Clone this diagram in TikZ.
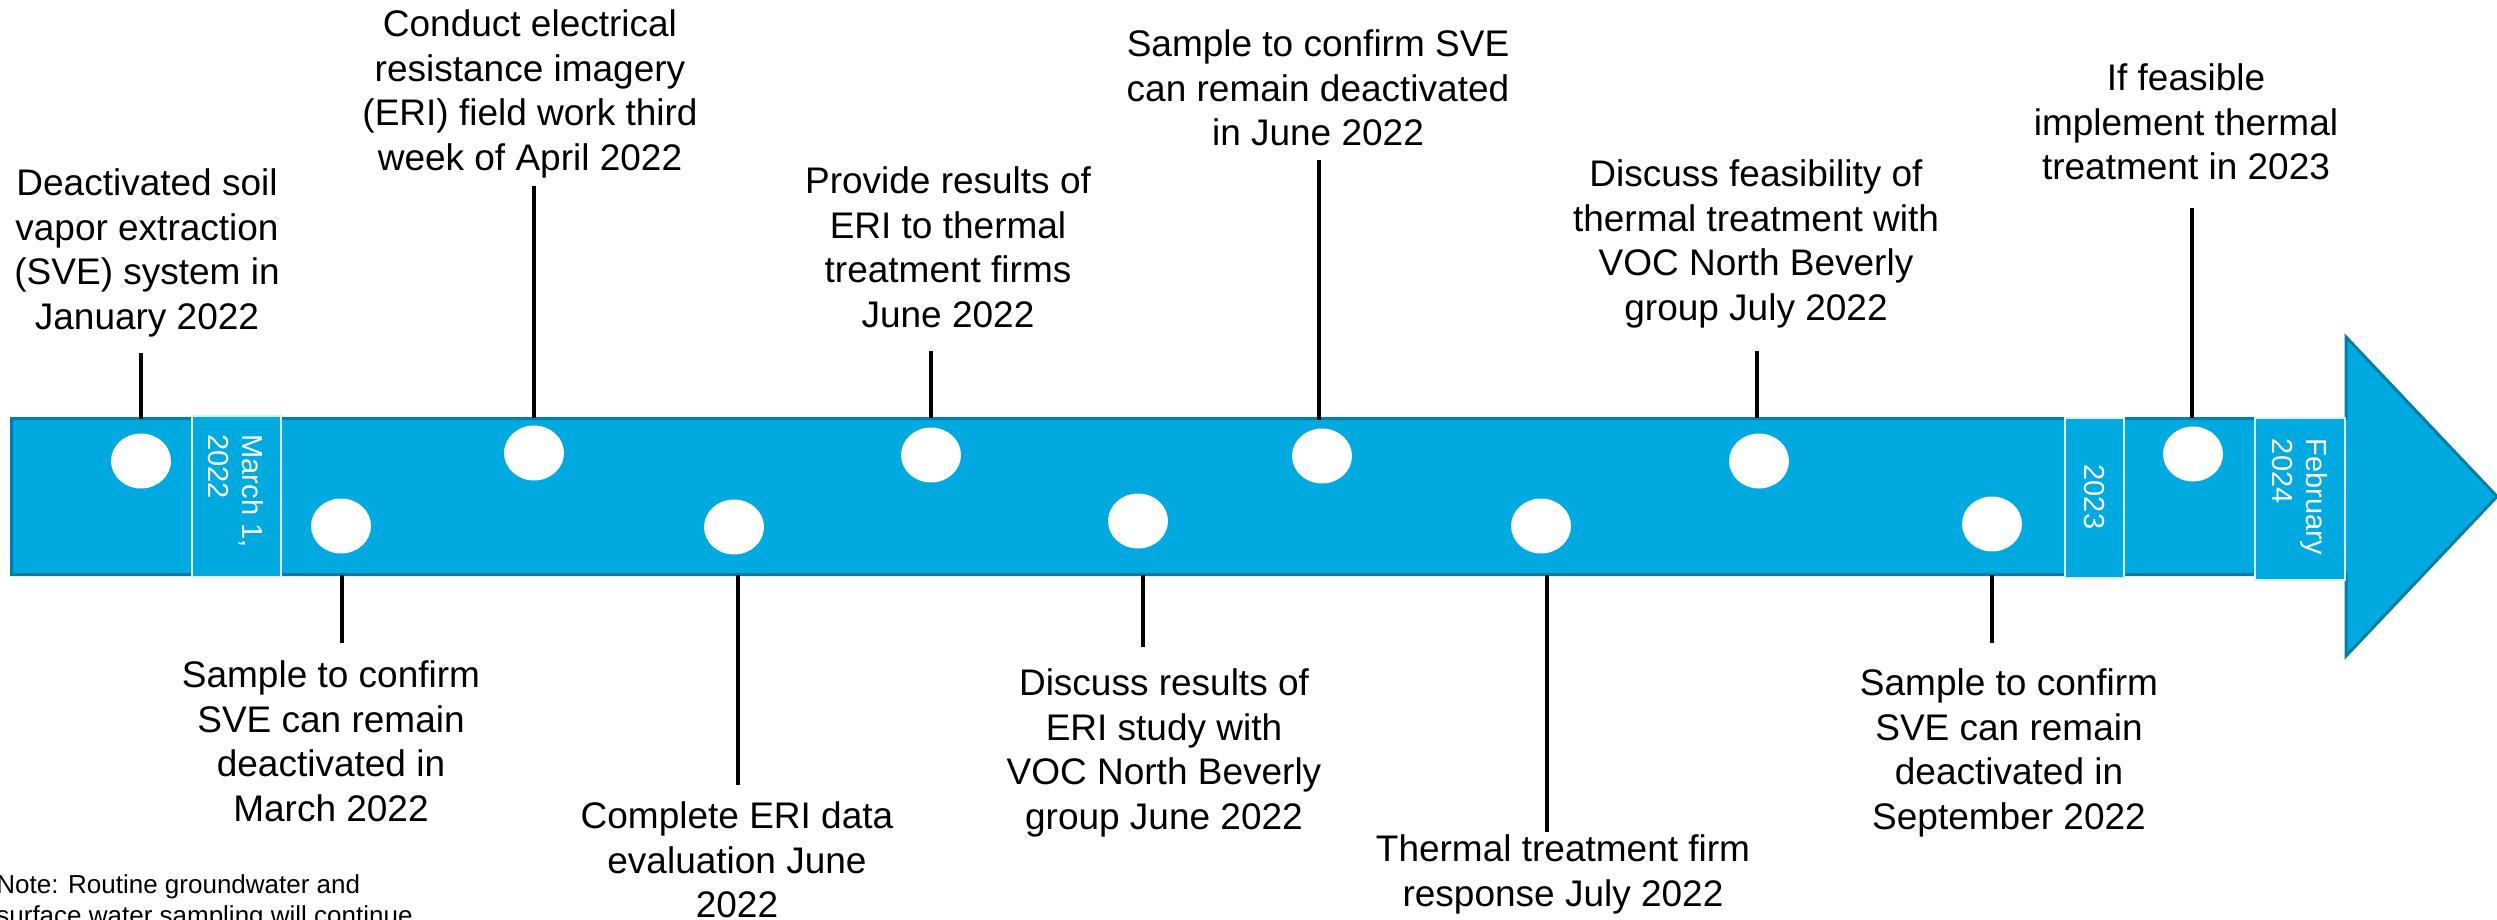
\documentclass[tikz,border=0pt]{standalone}
\usepackage{fontspec}
\setmainfont{Liberation Sans}
\usetikzlibrary{shapes.geometric}
\definecolor{barblue}{RGB}{0,169,224}
\definecolor{bardark}{RGB}{0,126,168}
\definecolor{boxline}{RGB}{215,240,250}
\newcommand\topstrut{\rule{0pt}{0.76em}}
\begin{document}
\begin{tikzpicture}[x=0.5pt,y=-0.5pt,
  lbl/.style={align=center, inner sep=0pt, anchor=north, font=\fontsize{18.5}{22.25}\selectfont},
  vlbl/.style={rotate=-90, align=left, inner sep=0pt, text=white, font=\fontsize{14.5}{17}\selectfont},
  datebox/.style={fill=barblue, draw=boxline, line width=1pt},
  dot/.style={ellipse, fill=white, inner sep=0pt, minimum width=30pt, minimum height=27.5pt},
  conn/.style={draw=black, line width=1.75pt}]
\useasboundingbox (0,0) rectangle (2497,920);
\fill[white] (0,0) rectangle (2497,920);
% timeline bar with arrow head
\draw[fill=barblue, draw=bardark, line width=1.5pt, line join=miter]
  (11.5,418.5) -- (2346,418.5) -- (2346,337) -- (2497,496.5) -- (2346,656) -- (2346,574.5) -- (11.5,574.5) -- cycle;
% date boxes
\draw[datebox] (191.5,416) rectangle (281,577);
\draw[datebox] (2064.5,418) rectangle (2124,578);
\draw[datebox] (2254.5,418) rectangle (2345,580);
\node[vlbl] (d1) at (236,491) {March 1,\\2022};
\node[vlbl] (d2) at (2094,497) {2023};
\node[vlbl] (d3) at (2300,497) {February\\2024};
% dots
\node[dot] (u1) at (141,461) {};
\node[dot] (u2) at (534,453) {};
\node[dot] (u3) at (931,455) {};
\node[dot] (u4) at (1322,456) {};
\node[dot] (u5) at (1759,461) {};
\node[dot] (u6) at (2193,454) {};
\node[dot] (l1) at (341,526) {};
\node[dot] (l2) at (734,527) {};
\node[dot] (l3) at (1138,521) {};
\node[dot] (l4) at (1541,526) {};
\node[dot] (l5) at (1992,524) {};
% connector end points
\coordinate (ua1) at (141,353);  \coordinate (ub1) at (141,419);
\coordinate (ua2) at (534,186);  \coordinate (ub2) at (534,418);
\coordinate (ua3) at (931,351);  \coordinate (ub3) at (931,418);
\coordinate (ua4) at (1319,160); \coordinate (ub4) at (1319,420);
\coordinate (ua5) at (1757,351); \coordinate (ub5) at (1757,418);
\coordinate (ua6) at (2192,208); \coordinate (ub6) at (2192,418);
\coordinate (la1) at (342,575);  \coordinate (lb1) at (342,643);
\coordinate (la2) at (738,575);  \coordinate (lb2) at (738,785);
\coordinate (la3) at (1143,575); \coordinate (lb3) at (1143,647);
\coordinate (la4) at (1547,575); \coordinate (lb4) at (1547,832);
\coordinate (la5) at (1992,575); \coordinate (lb5) at (1992,643);
\foreach \i in {1,...,6} { \draw[conn] (ua\i) -- (ub\i); }
\foreach \i in {1,...,5} { \draw[conn] (la\i) -- (lb\i); }
% labels above
\node[lbl] (t1) at (147,167) {\topstrut Deactivated soil\\vapor extraction\\(SVE) system in\\January 2022};
\node[lbl] (t2) at (530,8) {\topstrut Conduct electrical\\resistance imagery\\(ERI) field work third\\week of April 2022};
\node[lbl] (t3) at (948,165) {\topstrut Provide results of\\ERI to thermal\\treatment firms\\June 2022};
\node[lbl] (t4) at (1318,28) {\topstrut Sample to confirm SVE\\can remain deactivated\\in June 2022};
\node[lbl] (t5) at (1756,158) {\topstrut Discuss feasibility of\\thermal treatment with\\VOC North Beverly\\group July 2022};
\node[lbl] (t6) at (2186,62) {\topstrut If feasible\\implement thermal\\treatment in 2023};
% labels below
\node[lbl] (b1) at (331,659) {\topstrut Sample to confirm\\SVE can remain\\deactivated in\\March 2022};
\node[lbl] (b2) at (737,800) {\topstrut Complete ERI data\\evaluation June\\2022};
\node[lbl] (b3) at (1164,667) {\topstrut Discuss results of\\ERI study with\\VOC North Beverly\\group June 2022};
\node[lbl] (b4) at (1563,833) {\topstrut Thermal treatment firm\\response July 2022};
\node[lbl] (b5) at (2009,667) {\topstrut Sample to confirm\\SVE can remain\\deactivated in\\September 2022};
% note
\node[anchor=north west, align=left, inner sep=0pt, font=\fontsize{13}{15.6}\selectfont] (note) at (-4,873)
  {\rule{0pt}{0.76em}Note: Routine groundwater and\\surface water sampling will continue};
\end{tikzpicture}
\end{document}
